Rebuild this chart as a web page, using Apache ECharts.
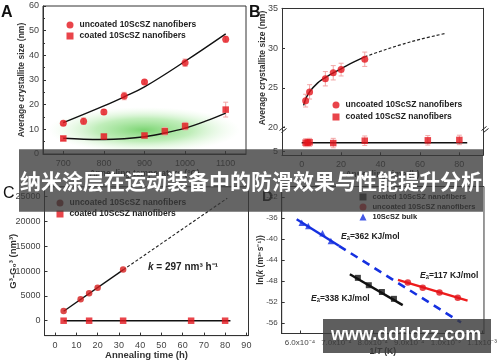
<!DOCTYPE html>
<html><head><meta charset="utf-8">
<script src="https://cdn.jsdelivr.net/npm/echarts@6/dist/echarts.min.js"></script>
<style>html,body{margin:0;padding:0;background:#fff}#c{width:500px;height:362px}</style>
</head><body><div id="c"></div>
<script>
// ---------- Panel A ----------
const aTemp = [700, 750, 800, 850, 900, 1000, 1100];
const aUncoated = [12.5, 13.3, 17, 23.5, 29.2, 37, 46.5];
const aUncoatedErr = [0.8, 1.3, 1.0, 1.5, 0.8, 1.5, 1.2];
const aCoatedTemp = [700, 800, 900, 950, 1000, 1100];
const aCoated = [6.3, 7.1, 7.5, 9.2, 11.3, 18];
const aCoatedErr = [0.8, 0.8, 0.8, 1.5, 1.5, 3];
const aFitUpX = [700, 800, 850, 900, 1000, 1100];
const aFitUpY = [12.7, 19.5, 23.2, 27.2, 37.6, 48.7];
const aFitLoX = [700, 750, 800, 850, 900, 950, 1000, 1050, 1100];
const aFitLoY = [6.4, 6.0, 5.9, 6.2, 7.0, 8.5, 10.5, 13.3, 16.6];
const aXTicks = [700, 800, 900, 1000, 1100];
// ---------- Panel B ----------
const bTime = [2, 4, 12, 16, 20, 32];
const bUncoated = [23.4, 24.5, 26.15, 26.9, 27.3, 28.6];
const bUncoatedErr = [0.8, 0.9, 0.9, 0.9, 0.8, 0.9];
const bCoatedTime = [2, 3, 4, 16, 32, 64, 80];
const bCoated = [6.1, 6.1, 6.15, 6.05, 6.35, 6.4, 6.45];
const bCoatedErr = [0.5, 0.5, 0.5, 0.6, 0.6, 0.6, 0.6];
const bFitX = [1, 2, 4, 8, 12, 16, 20, 26, 32];
const bFitY = [22.8, 23.6, 24.5, 25.6, 26.3, 26.9, 27.4, 28.2, 28.9];
const bExtX = [32, 40, 50, 60, 73];
const bExtY = [28.9, 29.6, 30.4, 31.1, 31.85];
const bCoatedFitX = [0, 84];
const bCoatedFitY = [6.1, 6.1];
const bXTicks = [0, 20, 40, 60, 80];
// ---------- Panel C ----------
const cTime = [4, 12, 16, 20, 32];
const cUncoated = [1950, 4350, 5550, 6650, 10350];
const cCoatedTime = [4, 16, 32, 64, 80];
const cCoated = [0, 0, 0, 0, 0];
const cFitX = [4, 32];
const cFitY = [1900, 10250];
const cExtX = [32, 81];
const cExtY = [10250, 24700];
const cCoatedFitX = [4, 82.5];
const cCoatedFitY = [0, 0];
const cXTicks = [0, 10, 20, 30, 40, 50, 60, 70, 80, 90];
const cYTicks = [0, 5000, 10000, 15000, 20000, 25000];
// ---------- Panel D (1/T in units of 1e-4 K^-1) ----------
const dBulkX = [6.05, 6.23, 6.62, 6.85];
const dBulkY = [-36.9, -37.5, -38.9, -40.4];
const dBulkFitX = [5.91, 7.07];
const dBulkFitY = [-36.25, -41.3];
const dBulkExtX = [7.07, 10.42];
const dBulkExtY = [-41.3, -55.9];
const dUncX = [8.96, 9.37, 9.83, 10.33];
const dUncY = [-48.3, -49.3, -50.2, -51.2];
const dUncFitX = [8.69, 10.6];
const dUncFitY = [-47.8, -51.75];
const dCoatX = [7.59, 7.89, 8.25, 8.58];
const dCoatY = [-47.4, -48.8, -50.1, -51.4];
const dCoatFitX = [7.37, 8.82];
const dCoatFitY = [-46.7, -52.6];
const dXTicks = [6, 7, 8, 9, 10, 11];
const dXTickLabels = ['6.0x10⁻⁴', '7.0x10⁻⁴', '8.0x10⁻⁴', '9.0x10⁻⁴', '1.0x10⁻³', '1.1x10⁻³'];
const dYTicks = [-56, -52, -48, -44, -40, -36, -32];

const FONT = 'Liberation Sans, Arial, sans-serif';
const RED = '#e3151d';
const zip = (xs, ys) => xs.map((x, i) => [x, ys[i]]);
const errData = (xs, ys, es) => xs.map((x, i) => [x, ys[i] - es[i], ys[i] + es[i]]);
const plain = v => String(v);

function errSeries(xs, ys, es, xi, yi) {
  return {
    type: 'custom', xAxisIndex: xi, yAxisIndex: yi, z: 1, silent: true,
    data: errData(xs, ys, es),
    encode: { x: 0, y: [1, 2] },
    renderItem: (params, api) => {
      const lo = api.coord([api.value(0), api.value(1)]);
      const hi = api.coord([api.value(0), api.value(2)]);
      const st = { stroke: '#f2a5a5', lineWidth: 1 };
      return { type: 'group', children: [
        { type: 'line', shape: { x1: lo[0], y1: lo[1], x2: hi[0], y2: hi[1] }, style: st },
        { type: 'line', shape: { x1: lo[0] - 2.5, y1: lo[1], x2: lo[0] + 2.5, y2: lo[1] }, style: st },
        { type: 'line', shape: { x1: hi[0] - 2.5, y1: hi[1], x2: hi[0] + 2.5, y2: hi[1] }, style: st }
      ]};
    }
  };
}
function line(xs, ys, xi, yi, opts) {
  return Object.assign({
    type: 'line', xAxisIndex: xi, yAxisIndex: yi, data: zip(xs, ys), symbol: 'none',
    silent: true, z: 2, lineStyle: { color: '#111', width: 1.4 }
  }, opts || {});
}
function scatter(name, xs, ys, xi, yi, symbol, size, color) {
  return { type: 'scatter', name, xAxisIndex: xi, yAxisIndex: yi, data: zip(xs, ys),
    symbol, symbolSize: size, itemStyle: { color }, z: 3 };
}
const lblStyle = { fontSize: 9, color: '#444', fontFamily: FONT };
const nameStyle = { fontSize: 8.5, fontWeight: 'bold', color: '#333', fontFamily: FONT };
function xAx(grid, min, max, ticks, name, gap, extra) {
  return Object.assign({
    type: 'value', gridIndex: grid, min, max, position: 'bottom',
    axisLine: { show: true, onZero: false, lineStyle: { color: '#333' } },
    axisTick: { show: true, inside: true, length: 3, customValues: ticks, lineStyle: { color: '#333' } },
    axisLabel: Object.assign({ customValues: ticks, margin: 5, formatter: plain }, lblStyle),
    splitLine: { show: false },
    name, nameLocation: 'middle', nameGap: gap, nameTextStyle: nameStyle
  }, extra || {});
}
function yAx(grid, min, max, ticks, name, gap, extra) {
  return Object.assign({
    type: 'value', gridIndex: grid, min, max, position: 'left',
    axisLine: { show: true, onZero: false, lineStyle: { color: '#333' } },
    axisTick: { show: true, inside: true, length: 3, customValues: ticks, lineStyle: { color: '#333' } },
    axisLabel: Object.assign({ customValues: ticks, margin: 4, formatter: plain }, lblStyle),
    splitLine: { show: false },
    name, nameLocation: 'middle', nameGap: gap, nameRotate: 90, nameMoveOverlap: false, nameTextStyle: nameStyle
  }, extra || {});
}
const bare = (grid, pos, min, max) => ({
  type: 'value', gridIndex: grid, min, max, position: pos,
  axisLine: { show: true, onZero: false, lineStyle: { color: '#333' } },
  axisTick: { show: false }, axisLabel: { show: false }, splitLine: { show: false }
});

const legendBase = (left, top, data, fs, lh, gap) => ({
  left, top, orient: 'vertical', padding: 0, itemWidth: 7, itemHeight: 7, itemGap: gap,
  selectedMode: false, data, formatter: n => n.split('|')[0],
  textStyle: { fontSize: fs, lineHeight: lh, fontWeight: 'bold', color: '#222', fontFamily: FONT, padding: [0, 0, 0, 1] }
});
const richI = fs => ({ i: { fontStyle: 'italic', fontWeight: 'bold', fontSize: fs, fontFamily: FONT, fill: '#222' }, n: { fontWeight: 'bold', fontSize: fs, fontFamily: FONT, fill: '#222' } });

const chart = echarts.init(document.getElementById('c'), null, { renderer: 'canvas' });
const option = {
  animation: false,
  backgroundColor: '#fff',
  grid: [
    { left: 43, top: 6, width: 203, height: 148, show: true, borderColor: '#333', borderWidth: 1 },
    { left: 282, top: 8.3, width: 201, height: 119.4 },
    { left: 282, top: 127.7, width: 201, height: 27.6 },
    { left: 44.5, top: 186.8, width: 204, height: 148.8, show: true, borderColor: '#333', borderWidth: 1 },
    { left: 281.7, top: 186.5, width: 203.2, height: 147, show: true, borderColor: '#333', borderWidth: 1 }
  ],
  xAxis: [
    xAx(0, 650, 1150, aXTicks, 'Annealing temperature (°C)', 13),
    bare(1, 'top', -10, 92),
    xAx(2, -10, 92, bXTicks, 'Annealing time (h)', 13),
    xAx(3, -5, 91, cXTicks, 'Annealing time (h)', 12, { nameTextStyle: Object.assign({}, nameStyle, { fontSize: 9.5 }) }),
    xAx(4, 5.5, 11.05, dXTicks, '1/{i|T} (K)', 14, {
      axisLabel: Object.assign({ customValues: dXTicks, margin: 5, formatter: v => dXTickLabels[dXTicks.indexOf(Math.round(v))] }, lblStyle, { fontSize: 8 }),
      nameTextStyle: Object.assign({}, nameStyle, { rich: { i: { fontStyle: 'italic', fontWeight: 'bold', fontSize: 8.5, color: '#333', fontFamily: FONT } } })
    })
  ],
  yAxis: [
    yAx(0, 0, 60, [0, 10, 20, 30, 40, 50, 60], 'Average crystallite size (nm)', 17, { minorTick: { show: true, splitNumber: 2, length: 2, lineStyle: { color: '#333' } } }),
    yAx(1, 20, 35, [20, 25, 30, 35], 'Average crystallite size (nm)', 15),
    bare(1, 'right', 20, 35),
    yAx(2, 4.5, 8, [5], '', 10),
    bare(2, 'right', 4.5, 8),
    yAx(3, -3000, 27000, cYTicks, 'G³-G₀³ (nm³)', 26, { nameTextStyle: Object.assign({}, nameStyle, { fontSize: 9.5 }) }),
    yAx(4, -58, -30, dYTicks, 'ln({i|k} (m³·s⁻¹))', 17, {
      axisLabel: Object.assign({ customValues: dYTicks, margin: 4, formatter: plain }, lblStyle, { fontSize: 8 }),
      nameTextStyle: Object.assign({}, nameStyle, { rich: { i: { fontStyle: 'italic', fontWeight: 'bold', fontSize: 8.5, color: '#333', fontFamily: FONT } } })
    })
  ],
  legend: [
    legendBase(66.5, 20, ['uncoated 10ScSZ nanofibers|A', 'coated 10ScSZ nanofibers|A'], 8.5, 10, 1),
    legendBase(332.5, 100, ['uncoated 10ScSZ nanofibers|B', 'coated 10ScSZ nanofibers|B'], 8.5, 10, 2),
    legendBase(56.5, 198, [{ name: 'uncoated 10ScSZ nanofibers|C', itemStyle: { color: '#7a0d0d' } }, 'coated 10ScSZ nanofibers|C'], 8.5, 10, 1),
    legendBase(359.5, 192.5, ['coated 10ScSZ nanofibers|D', 'uncoated 10ScSZ nanofibers|D', '10ScSZ bulk|D'], 7.5, 9, 1)
  ],
  series: [
    // A
    line(aFitUpX, aFitUpY, 0, 0, { smooth: 0.4 }),
    line(aFitLoX, aFitLoY, 0, 0, { smooth: 0.4 }),
    errSeries(aTemp, aUncoated, aUncoatedErr, 0, 0),
    errSeries(aCoatedTemp, aCoated, aCoatedErr, 0, 0),
    scatter('uncoated 10ScSZ nanofibers|A', aTemp, aUncoated, 0, 0, 'circle', 7, RED),
    scatter('coated 10ScSZ nanofibers|A', aCoatedTemp, aCoated, 0, 0, 'rect', 6.5, RED),
    // B
    line(bFitX, bFitY, 1, 1, { smooth: 0.4 }),
    line(bExtX, bExtY, 1, 1, { smooth: 0.4, lineStyle: { color: '#222', width: 1.2, type: [3, 2] } }),
    errSeries(bTime, bUncoated, bUncoatedErr, 1, 1),
    scatter('uncoated 10ScSZ nanofibers|B', bTime, bUncoated, 1, 1, 'circle', 7, RED),
    line(bCoatedFitX, bCoatedFitY, 2, 3),
    errSeries(bCoatedTime, bCoated, bCoatedErr, 2, 3),
    scatter('coated 10ScSZ nanofibers|B', bCoatedTime, bCoated, 2, 3, 'rect', 6.5, RED),
    // C
    line(cFitX, cFitY, 3, 5),
    line(cExtX, cExtY, 3, 5, { lineStyle: { color: '#222', width: 1.1, type: [3, 2] } }),
    line(cCoatedFitX, cCoatedFitY, 3, 5),
    scatter('uncoated 10ScSZ nanofibers|C', cTime, cUncoated, 3, 5, 'circle', 6.5, '#d41c1c'),
    scatter('coated 10ScSZ nanofibers|C', cCoatedTime, cCoated, 3, 5, 'rect', 6.5, RED),
    // D
    line(dBulkFitX, dBulkFitY, 4, 6, { lineStyle: { color: '#1530e0', width: 2.4 } }),
    line(dBulkExtX, dBulkExtY, 4, 6, { lineStyle: { color: '#1530e0', width: 2.6, type: [8, 6] } }),
    line(dUncFitX, dUncFitY, 4, 6, { lineStyle: { color: '#ee1c1c', width: 2.4 } }),
    line(dCoatFitX, dCoatFitY, 4, 6, { lineStyle: { color: '#111', width: 2.4 } }),
    scatter('10ScSZ bulk|D', dBulkX, dBulkY, 4, 6, 'triangle', 6.5, '#1530e0'),
    scatter('uncoated 10ScSZ nanofibers|D', dUncX, dUncY, 4, 6, 'circle', 6.5, '#e0141c'),
    scatter('coated 10ScSZ nanofibers|D', dCoatX, dCoatY, 4, 6, 'rect', 6, '#111')
  ],
  graphic: [
    { type: 'circle', z: 1, silent: true, x: 144, y: 130, scaleX: 96 / 23, scaleY: 1,
      shape: { cx: 0, cy: 0, r: 23 },
      style: { fill: new echarts.graphic.RadialGradient(0.5, 0.5, 0.5, [
        { offset: 0, color: 'rgba(110,208,100,0.9)' },
        { offset: 0.5, color: 'rgba(150,226,140,0.6)' },
        { offset: 1, color: 'rgba(215,246,210,0)' }]) } },
    // panel letters
    { type: 'text', left: 1, top: 5, style: { text: 'A', font: 'bold 16px ' + FONT, fill: '#111' } },
    { type: 'text', left: 249, top: 5, style: { text: 'B', font: 'bold 16px ' + FONT, fill: '#111' } },
    { type: 'text', left: 3, top: 186, style: { text: 'C', font: '16px ' + FONT, fill: '#111' } },
    { type: 'text', left: 262, top: 189, style: { text: 'D', font: 'bold 15px ' + FONT, fill: '#111' } },
    // B axis break marks
    { type: 'group', left: 277, top: 124, children: [
      { type: 'line', shape: { x1: 0, y1: 4, x2: 5, y2: 0 }, style: { stroke: '#222', lineWidth: 1 } },
      { type: 'line', shape: { x1: 2, y1: 6, x2: 7, y2: 2 }, style: { stroke: '#222', lineWidth: 1 } }] },
    { type: 'group', left: 479, top: 124, children: [
      { type: 'line', shape: { x1: 0, y1: 4, x2: 5, y2: 0 }, style: { stroke: '#222', lineWidth: 1 } },
      { type: 'line', shape: { x1: 2, y1: 6, x2: 7, y2: 2 }, style: { stroke: '#222', lineWidth: 1 } }] },
    // annotations
    { type: 'text', left: 148, top: 262, style: { rich: richI(10), text: '{i|k}{n| = 297 nm³ h⁻¹}' } },
    { type: 'text', left: 341, top: 232.5, style: { rich: richI(8.5), text: '{i|E}{n|ₐ=362 KJ/mol}' } },
    { type: 'text', left: 420, top: 271.5, style: { rich: richI(8.5), text: '{i|E}{n|ₐ=117 KJ/mol}' } },
    { type: 'text', left: 311, top: 294, style: { rich: richI(8.5), text: '{i|E}{n|ₐ=338 KJ/mol}' } },
    // overlays
    { type: 'rect', z: 100, silent: true, shape: { x: 19, y: 149.3, width: 464, height: 62.4 }, style: { fill: 'rgba(58,58,58,0.78)' } },
    { type: 'text', z: 101, left: 20, top: 171, style: { text: '纳米涂层在运动装备中的防滑效果与性能提升分析', font: 'bold 21px "Noto Sans CJK SC"', fill: '#fff' } },
    { type: 'rect', z: 100, silent: true, shape: { x: 323, y: 319, width: 168, height: 34 }, style: { fill: 'rgba(58,58,58,0.82)' } },
    { type: 'text', z: 101, left: 331, top: 326, style: { text: 'www.ddfldzz.com', font: 'bold 18px ' + FONT, fill: '#fff' } }
  ]
};
chart.setOption(option);
</script>
</body></html>
